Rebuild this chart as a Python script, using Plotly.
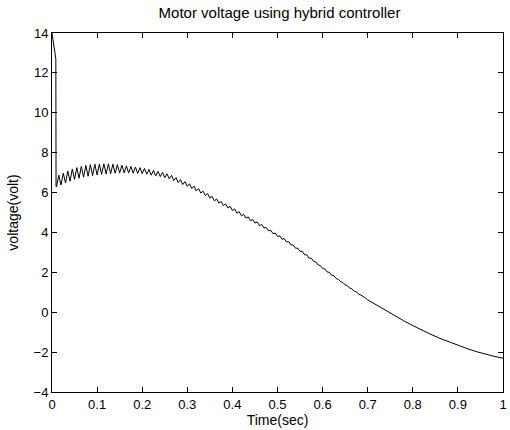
import plotly.graph_objects as go

# Initial spike (time, voltage)
spike_t = [0.0, 0.003, 0.006, 0.0085, 0.009]
spike_v = [14.0, 13.5, 12.9, 12.7, 6.3]

# Oscillation troughs at t = 0.01, 0.02, ..., 0.70
trough_t = [round(0.01 * k, 3) for k in range(1, 71)]
trough_v = [6.29, 6.38, 6.48, 6.57, 6.66, 6.72, 6.77, 6.82, 6.85, 6.88,
            6.91, 6.93, 6.95, 6.97, 6.98, 6.99, 6.98, 6.97, 6.96, 6.95,
            6.92, 6.87, 6.84, 6.80, 6.75, 6.69, 6.60, 6.50, 6.40, 6.31,
            6.20, 6.08, 5.97, 5.85, 5.72, 5.58, 5.47, 5.35, 5.23, 5.10,
            4.97, 4.84, 4.72, 4.59, 4.47, 4.34, 4.22, 4.08, 3.94, 3.80,
            3.66, 3.52, 3.37, 3.21, 3.05, 2.88, 2.71, 2.55, 2.37, 2.19,
            2.02, 1.85, 1.69, 1.53, 1.37, 1.21, 1.05, 0.91, 0.76, 0.62]

# Oscillation peaks at t = 0.015, 0.025, ..., 0.695
peak_t = [round(0.01 * k + 0.005, 3) for k in range(1, 70)]
peak_v = [6.87, 6.97, 7.08, 7.18, 7.25, 7.31, 7.36, 7.40, 7.42, 7.43,
          7.44, 7.44, 7.42, 7.40, 7.37, 7.34, 7.31, 7.28, 7.25, 7.21,
          7.16, 7.11, 7.06, 7.01, 6.94, 6.86, 6.75, 6.65, 6.55, 6.44,
          6.32, 6.20, 6.07, 5.95, 5.81, 5.68, 5.55, 5.43, 5.31, 5.18,
          5.04, 4.90, 4.78, 4.65, 4.53, 4.40, 4.25, 4.11, 3.97, 3.83,
          3.69, 3.54, 3.37, 3.21, 3.05, 2.88, 2.71, 2.52, 2.34, 2.17,
          2.00, 1.83, 1.65, 1.49, 1.33, 1.17, 1.02, 0.86, 0.71]

# Smooth tail
tail_t = [0.72, 0.74, 0.76, 0.78, 0.80, 0.82, 0.84, 0.86, 0.88, 0.90,
          0.92, 0.94, 0.96, 0.98, 1.00]
tail_v = [0.35, 0.08, -0.18, -0.43, -0.67, -0.90, -1.11, -1.31, -1.49, -1.66,
          -1.82, -1.97, -2.10, -2.21, -2.31]

x_ticks = [0, 0.1, 0.2, 0.3, 0.4, 0.5, 0.6, 0.7, 0.8, 0.9, 1]
x_tick_labels = ["0", "0.1", "0.2", "0.3", "0.4", "0.5", "0.6", "0.7", "0.8", "0.9", "1"]
y_ticks = [-4, -2, 0, 2, 4, 6, 8, 10, 12, 14]

# Assemble the signal in time order
osc = sorted(list(zip(trough_t, trough_v)) + list(zip(peak_t, peak_v)))
t = spike_t + [p[0] for p in osc] + tail_t
v = spike_v + [p[1] for p in osc] + tail_v

fig = go.Figure()
fig.add_trace(go.Scatter(x=t, y=v, mode="lines",
                         line=dict(color="black", width=1), showlegend=False))

font = "Liberation Sans, Arial, sans-serif"
fig.update_layout(
    width=510, height=430,
    margin=dict(l=52, r=3, t=33, b=38),
    paper_bgcolor="white", plot_bgcolor="white",
    font=dict(family=font, size=13, color="black"),
    title=dict(text="Motor voltage using hybrid controller",
               x=(52 + 507) / 2 / 510, xanchor="center",
               y=1 - 13 / 430, yanchor="middle", yref="container",
               font=dict(size=15, family=font, color="black")),
)
fig.update_xaxes(
    range=[0, 1], tickvals=x_ticks, ticktext=x_tick_labels,
    ticks="inside", ticklen=5, tickcolor="black",
    showline=True, linecolor="black", linewidth=1, mirror="ticks",
    showgrid=False, zeroline=False, ticklabeloverflow="allow",
    title=dict(text="Time(sec)", font=dict(size=14), standoff=0),
)
fig.update_yaxes(
    range=[-4, 14], tickvals=y_ticks,
    ticks="inside", ticklen=5, tickcolor="black",
    showline=True, linecolor="black", linewidth=1, mirror="ticks",
    showgrid=False, zeroline=False, ticklabeloverflow="allow",
    title=dict(text="voltage(volt)", font=dict(size=14), standoff=11),
)

fig.write_html("out.html")
